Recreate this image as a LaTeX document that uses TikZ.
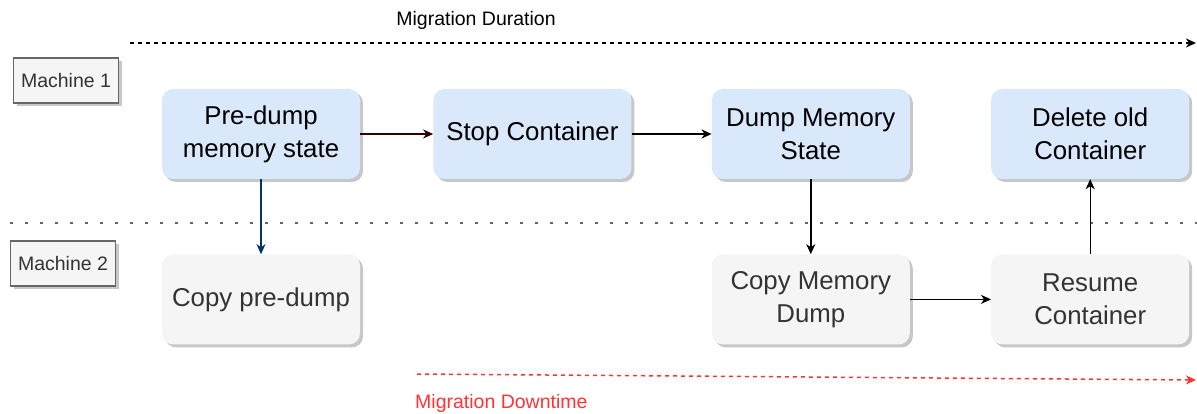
\documentclass[tikz,border=0pt]{standalone}
\usepackage{fontspec}
\setmainfont{Liberation Sans}
\usepackage{tikz}
\usetikzlibrary{positioning}
\usetikzlibrary{shadows}
\usetikzlibrary{arrows.meta}
\definecolor{boxblue}{HTML}{DAE8FC}
\definecolor{boxgray}{HTML}{F5F5F5}
\definecolor{textgray}{HTML}{333333}
\definecolor{framegray}{HTML}{666666}
\definecolor{downred}{HTML}{FF3333}
\definecolor{linkblue}{HTML}{003366}
\definecolor{linkdark}{HTML}{330000}
\tikzstyle{lifted} = [drop shadow={shadow xshift=3pt,shadow yshift=-3pt,fill=black!22,opacity=1}]
\tikzstyle{task} = [rectangle,rounded corners=11pt,lifted,minimum width=198pt,minimum height=90pt,
                    align=center,font=\fontsize{25.8}{33}\selectfont]
\tikzstyle{source} = [task,fill=boxblue,text=black]
\tikzstyle{target} = [task,fill=boxgray,text=textgray]
\tikzstyle{machine} = [rectangle,draw=framegray,line width=1.2pt,fill=boxgray,text=textgray,lifted,
                       minimum width=105pt,minimum height=45pt,font=\fontsize{19.5}{23}\selectfont]
\tikzstyle{connector} = [->,line width=1.4pt]
\tikzstyle{span} = [->,line width=1.5pt,dash pattern=on 4pt off 4pt]
\tikzstyle{divider} = [line width=2.8pt,dash pattern=on 3pt off 12pt,framegray]
\tikzstyle{caption} = [inner sep=0pt,font=\fontsize{19.5}{23}\selectfont]

\begin{document}
\begin{tikzpicture}[x=1pt,y=-1pt,>={Stealth[length=10pt,width=9pt,inset=3pt]}]
    \useasboundingbox (0,0) rectangle (1197,414);
    % machine labels
    \node[machine] (mach1) at (66,80.5) {Machine 1};
    \node[machine] (mach2) at (63,263.5) {Machine 2};
    % steps on the first machine
    \node[source] (predump) at (261,134) {Pre-dump\\memory state};
    \node[source, right=73pt of predump] (stop) {Stop Container};
    \node[source, right=80pt of stop] (dump) {Dump Memory\\State};
    \node[source, right=81pt of dump] (delete) {Delete old\\Container};
    % steps on the second machine
    \node[target, below=75pt of predump] (copypre) {Copy pre-dump};
    \node[target, below=75pt of dump] (copymem) {Copy Memory\\Dump};
    \node[target, below=75pt of delete] (resume) {Resume\\Container};
    % time spans and separator
    \coordinate (durstart) at (130,43);
    \coordinate (durend) at (1196,43);
    \node[caption, anchor=base] (durlabel) at (476,26) {Migration Duration};
    \coordinate (sepleft) at (10,223);
    \coordinate (sepright) at (1197,223);
    \coordinate (downstart) at (417,374);
    \coordinate (downend) at (1196,380);
    \node[caption, anchor=base west, text=downred] (downlabel) at (415,408) {Migration Downtime};
    % now link the nodes
    \draw [span] (durstart) -- (durend);
    \draw [divider] (sepleft) -- (sepright);
    \draw [span, downred] (downstart) -- (downend);
    \draw [connector, linkdark] (predump) -- (stop);
    \draw [connector] (stop) -- (dump);
    \draw [connector, linkblue] (predump) -- (copypre);
    \draw [connector] (dump) -- (dump |- copymem.north);
    \draw [connector] (copymem) -- (resume);
    \draw [connector] (resume) -- (delete);
\end{tikzpicture}
\end{document}
